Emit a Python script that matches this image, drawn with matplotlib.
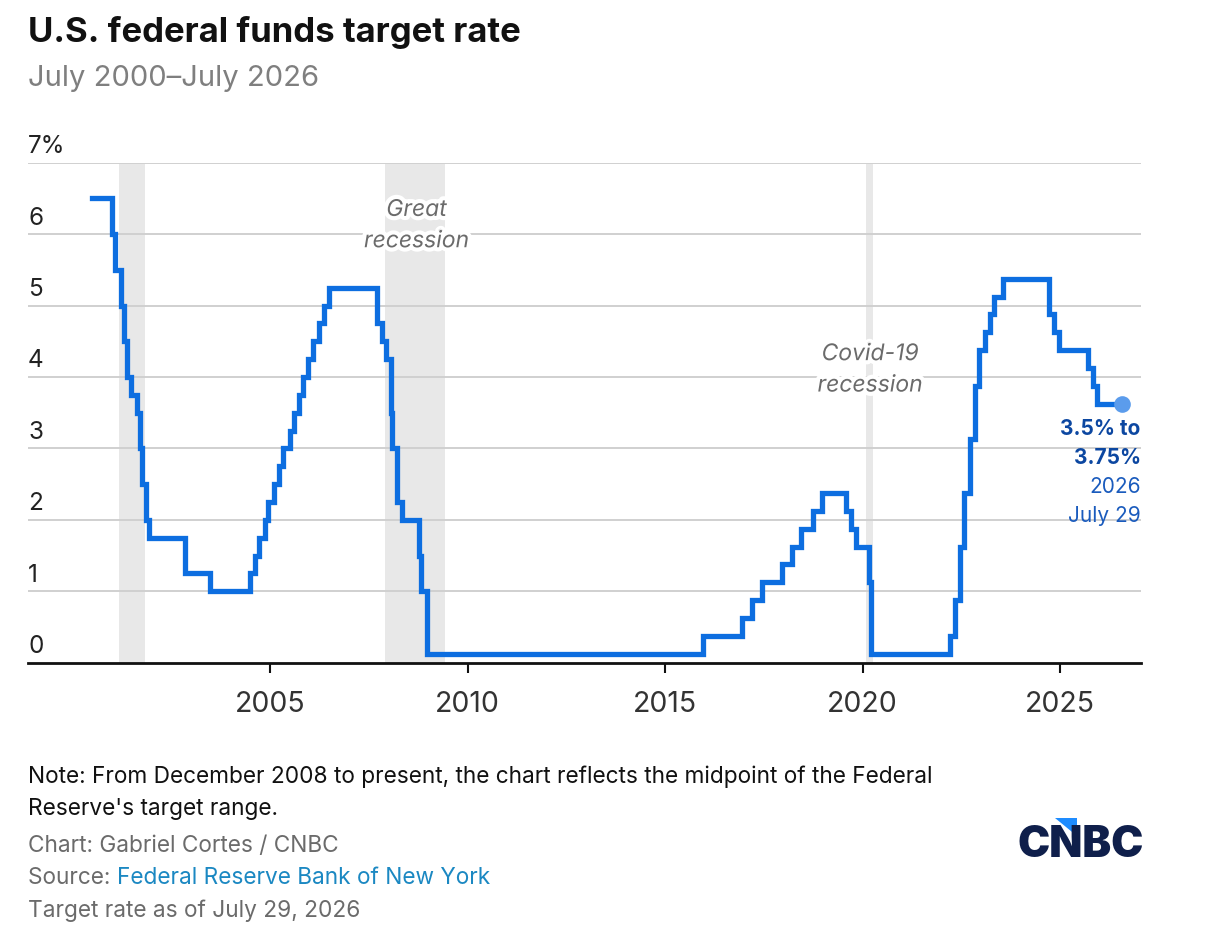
import matplotlib
matplotlib.use("Agg")
import matplotlib.pyplot as plt
import matplotlib.patheffects as pe
from matplotlib.patches import Polygon
import pandas as pd

# fed funds target (midpoint of range from Dec 2008)
change_dates = [
    "2000-07-01", "2001-01-03", "2001-01-31", "2001-03-20", "2001-04-18",
    "2001-05-15", "2001-06-27", "2001-08-21", "2001-09-17", "2001-10-02",
    "2001-11-06", "2001-12-11", "2002-11-06", "2003-06-25", "2004-06-30",
    "2004-08-10", "2004-09-21", "2004-11-10", "2004-12-14", "2005-02-02",
    "2005-03-22", "2005-05-03", "2005-06-30", "2005-08-09", "2005-09-20",
    "2005-11-01", "2005-12-13", "2006-01-31", "2006-03-28", "2006-05-10",
    "2006-06-29", "2007-09-18", "2007-10-31", "2007-12-11", "2008-01-22",
    "2008-01-30", "2008-03-18", "2008-04-30", "2008-10-08", "2008-10-29",
    "2008-12-16", "2015-12-16", "2016-12-14", "2017-03-15", "2017-06-14",
    "2017-12-13", "2018-03-21", "2018-06-13", "2018-09-26", "2018-12-19",
    "2019-07-31", "2019-09-18", "2019-10-30", "2020-03-03", "2020-03-15",
    "2022-03-16", "2022-05-04", "2022-06-15", "2022-07-27", "2022-09-21",
    "2022-11-02", "2022-12-14", "2023-02-01", "2023-03-22", "2023-05-03",
    "2023-07-26", "2024-09-18", "2024-11-07", "2024-12-18", "2025-09-17",
    "2025-10-29", "2025-12-10", "2026-07-29",
]
rates = [
    6.5, 6.0, 5.5, 5.0, 4.5,
    4.0, 3.75, 3.5, 3.0, 2.5,
    2.0, 1.75, 1.25, 1.0, 1.25,
    1.5, 1.75, 2.0, 2.25, 2.5,
    2.75, 3.0, 3.25, 3.5, 3.75,
    4.0, 4.25, 4.5, 4.75, 5.0,
    5.25, 4.75, 4.5, 4.25, 3.5,
    3.0, 2.25, 2.0, 1.5, 1.0,
    0.125, 0.375, 0.625, 0.875, 1.125,
    1.375, 1.625, 1.875, 2.125, 2.375,
    2.125, 1.875, 1.625, 1.125, 0.125,
    0.375, 0.875, 1.625, 2.375, 3.125,
    3.875, 4.375, 4.625, 4.875, 5.125,
    5.375, 4.875, 4.625, 4.375, 4.125,
    3.875, 3.625, 3.625,
]

recessions = [("2001-03-01", "2001-11-01"), ("2007-12-01", "2009-06-01"), ("2020-02-05", "2020-04-10")]
recession_labels = [("2008-09-15", 6.12, "Great\nrecession"), ("2020-03-10", 4.1, "Covid-19\nrecession")]
year_ticks = [2005, 2010, 2015, 2020, 2025]
y_ticks = [0, 1, 2, 3, 4, 5, 6, 7]

dates = pd.to_datetime(change_dates)

plt.rcParams["font.family"] = ["Inter", "DejaVu Sans"]

W, H = 1208, 932
fig = plt.figure(figsize=(W / 100, H / 100), dpi=100)
fig.patch.set_facecolor("white")

ax = fig.add_axes([28 / W, 1 - 662.7 / H, 1112.7 / W, 500 / H])
ax.set_xlim(pd.Timestamp("1998-11-14"), pd.Timestamp("2027-01-15"))
ax.set_ylim(0, 7)

for start, end in recessions:
    ax.axvspan(pd.Timestamp(start), pd.Timestamp(end), ymin=0, ymax=0.997,
               color="#e8e8e8", lw=0, zorder=0)

for v in y_ticks[1:]:
    ax.axhline(v, color="#d0d0d0", lw=1.4, zorder=1)

ax.step(dates, rates, where="post", color="#0d6ee0", lw=3.8,
        solid_joinstyle="miter", zorder=3)
ax.plot(dates[-1], rates[-1], "o", ms=12, color="#5b9cec", mec="none", zorder=4)

for d, y, txt in recession_labels:
    ax.text(pd.Timestamp(d), y, txt, ha="center", va="center", fontsize=16.5,
            style="italic", color="#6b6b6b", linespacing=1.55, zorder=2,
            path_effects=[pe.withStroke(linewidth=6, foreground="white")])

for s in ["top", "right", "left"]:
    ax.spines[s].set_visible(False)
ax.spines["bottom"].set_color("#111111")
ax.spines["bottom"].set_linewidth(2)
ax.set_yticks([])
ax.set_xticks([pd.Timestamp(f"{y}-01-01") for y in year_ticks])
ax.set_xticklabels([])
ax.tick_params(axis="x", length=7.5, width=1.5, color="#111111")

xtr = ax.get_xaxis_transform()
for y in year_ticks:
    ax.text(pd.Timestamp(f"{y}-01-01"), -49 / 500, str(y), ha="center",
            va="baseline", fontsize=20.5, color="#333333", transform=xtr)

ytr = ax.get_yaxis_transform()
for v in y_ticks:
    lab = f"{v}%" if v == 7 else str(v)
    ax.text(0, v + 9.5 / 71.4, lab, ha="left", va="baseline", fontsize=17.5,
            color="#222222", transform=ytr)

# end annotation
end_lines = [("3.5% to", "bold", "#0c47a1"), ("3.75%", "bold", "#0c47a1"),
             ("2026", "normal", "#1a5bbd"), ("July 29", "normal", "#1a5bbd")]
base = [435, 464, 493, 521.7]
for (t, w, c), yb in zip(end_lines, base):
    fig.text(1140.7 / W, 1 - yb / H, t, ha="right", va="baseline",
             fontsize=15, fontweight=w, color=c)

def fy(p):
    return 1 - p / H

fig.text(28 / W, fy(42), "U.S. federal funds target rate", fontsize=25,
         fontweight="bold", color="#111111", va="baseline")
fig.text(28 / W, fy(86.5), "July 2000\u2013July 2026", fontsize=21,
         color="#7f7f7f", va="baseline")

fs = 16.3
fig.text(28 / W, fy(783.3), "Note: From December 2008 to present, the chart reflects the midpoint of the Federal",
         fontsize=fs, color="#111111", va="baseline")
fig.text(28 / W, fy(815), "Reserve's target range.", fontsize=fs, color="#111111", va="baseline")
fig.text(28 / W, fy(851.7), "Chart: Gabriel Cortes / CNBC", fontsize=fs, color="#6b6b6b", va="baseline")
src = fig.text(28 / W, fy(883.5), "Source: ", fontsize=fs, color="#6b6b6b", va="baseline")
fig.text(28 / W, fy(916.5), "Target rate as of July 29, 2026", fontsize=fs, color="#6b6b6b", va="baseline")

fig.canvas.draw()
bb = src.get_window_extent()
fig.text(bb.x1 / W, fy(883.5), "Federal Reserve Bank of New York", fontsize=fs,
         color="#1b88c2", va="baseline")

# CNBC logo
fig.text(1017 / W, fy(857), "CNBC", fontsize=31, fontweight="black",
         color="#0f1f4b", va="baseline")
tri = [(1055 / W, fy(818)), (1077 / W, fy(818)), (1077 / W, fy(836))]
fig.patches.append(Polygon(tri, closed=True, transform=fig.transFigure,
                           color="#1e8cff", lw=0))

fig.savefig("out.png", dpi=100, facecolor="white")
